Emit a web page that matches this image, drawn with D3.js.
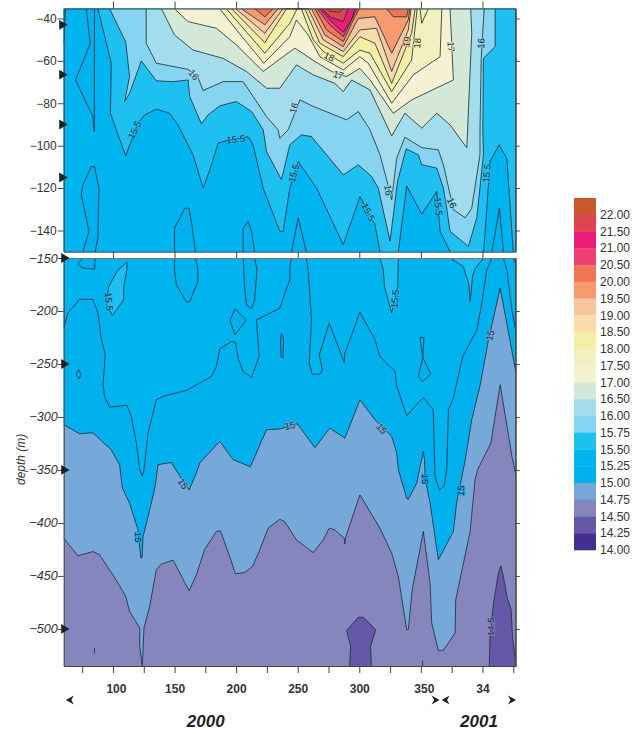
<!DOCTYPE html>
<html>
<head>
<meta charset="utf-8">
<script src="https://cdn.jsdelivr.net/npm/d3@7"></script>
<style>
    html, body { margin: 0; padding: 0; background: #fff; }
    text { font-family: "Liberation Sans", Arial, sans-serif; }
</style>
</head>
<body>
<div id="viz"></div>
<script>
const legendLevels = [22, 21.5, 21, 20.5, 20, 19.5, 19, 18.5, 18, 17.5, 17, 16.5, 16, 15.75, 15.5, 15.25, 15, 14.75, 14.5, 14.25, 14];
const legendColors = ['#c8592f', '#dc4450', '#ed1c79', '#ee3f72', '#f07458', '#f79b6e', '#f8c6a0', '#fbdcab', '#f3efa5', '#f2f0c0', '#f5f2d3', '#d3e8d6', '#a3dcec', '#87d4f2', '#1ec0f2', '#00b4f0', '#00b1ee', '#76a8da', '#8686bf', '#6658a8', '#432e92'];

const upperDepthTicks = [-40, -60, -80, -100, -120, -140];
const lowerDepthTicks = [-150, -200, -250, -300, -350, -400, -450, -500];
const majorDays = [100, 150, 200, 250, 300, 350, 400];
const minorDays = [75, 100, 125, 150, 175, 200, 225, 250, 275, 300, 325, 350, 375, 400, 425];
const sampleDepths = [-43, -66.5, -90, -115, -150, -250, -350, -500];

// contour outlines as [day, depth], warm side is filled
const iso14_75 = [[55, -414], [60, -414.4], [71.5, -431], [83.7, -427], [89, -430], [100, -449], [110.3, -469], [113.5, -483.5], [121.7, -499], [121.7, -516], [123.8, -536], [125.2, -499], [129.8, -479], [135.2, -444], [139.3, -439], [148.8, -435], [161.8, -464], [167.7, -449], [174.5, -425], [184, -408], [187.3, -407.5], [194.8, -431.7], [199.4, -448], [207, -446.7], [213.3, -441], [219.2, -425.4], [226, -405], [235.5, -396.5], [239.6, -399], [249, -416], [262.6, -428], [270.7, -416], [275.6, -405], [280, -406.5], [287.8, -414.4], [288.2, -420], [288.8, -414], [300.5, -373.6], [316.8, -405], [326.3, -428.5], [331.7, -450.5], [338.5, -500.7], [339.8, -500.7], [343, -463], [352, -408], [357.5, -457], [358.8, -494.5], [364.2, -520.5], [368.3, -520], [377.8, -504], [378.3, -472.5], [390, -408], [394, -359.4], [396, -350], [406.8, -324.6], [414.4, -269.6], [423.9, -337], [428, -359.4], [432, -360], [432, -30], [55, -30]];
const iso15 = [[55, -307], [60, -307.3], [72.9, -315.8], [83.7, -315], [98.6, -331], [105.4, -345], [107.6, -367], [113.5, -381.4], [120.3, -406.5], [122.6, -433], [123.6, -433], [124.4, -413], [128.5, -394], [134, -367], [136.6, -345], [147.4, -343], [155.5, -358], [161.8, -369], [167.7, -353], [170.5, -343.4], [186.7, -323], [197.6, -340.3], [211.6, -347], [224.7, -312], [235.5, -311.4], [249.6, -306.4], [264, -329], [276, -310.5], [288.3, -320], [300.5, -283.8], [312.7, -302.6], [326.3, -318.3], [330.4, -334], [331.7, -349.7], [338.5, -376.7], [339.8, -377.6], [346.6, -362.6], [349.3, -347], [350.7, -340.6], [352, -332.4], [353, -341], [353.5, -358], [357.5, -381.4], [359.5, -397], [364.2, -434.8], [376.4, -408], [379, -381.4], [386, -340.6], [391.3, -302.6], [398, -271], [404.9, -227.2], [414.4, -178.6], [422.5, -228.8], [428, -263.4], [432, -264], [432, -30], [55, -30]];
const iso15_25 = [[55, -216], [60, -216], [63.4, -202], [72.9, -189], [83.7, -189], [87.8, -202], [90.5, -225.7], [93.8, -241.4], [91.9, -269.6], [93.2, -280.6], [97.3, -290.7], [111.4, -289], [114.9, -299.5], [119, -324.6], [121.7, -349.7], [123.8, -355.7], [125.2, -349.7], [128.5, -315], [135.2, -283.8], [142, -280], [159.6, -275], [180, -261.8], [184, -252.4], [186.7, -235.7], [196.2, -228.8], [199.4, -229.4], [201.6, -244.5], [205.7, -257], [212.5, -262.7], [218.7, -243], [216.5, -208.4], [235.5, -197.4], [239.6, -183], [243.6, -170.7], [243.6, -158], [245, -150], [250.4, -134], [257, -150], [258.5, -161.3], [261.2, -208.4], [259.3, -249.2], [261.8, -259.6], [268, -259.6], [270, -255.5], [267.5, -241.4], [275.6, -211.5], [287.8, -248.6], [288.3, -239.8], [300.5, -201], [312.7, -227], [316.8, -243], [329, -257], [330.4, -271], [338.5, -298.8], [352, -281.6], [360, -293], [361.5, -356.3], [365, -368.9], [368.8, -365], [371, -349.7], [372.4, -293], [376.4, -282], [384, -243], [395.4, -218], [399.5, -192.7], [403.5, -161.3], [407.6, -150], [413.8, -129.5], [417, -150], [419.8, -161.3], [423.9, -199], [428, -224], [432, -224], [432, -30], [55, -30]];
const iso15_5 = [[87.8, -35.4], [98.6, -61], [98, -84.7], [102.7, -92.5], [110.3, -104.8], [115.7, -96.5], [120.3, -89.4], [125.7, -85.5], [135.2, -82.8], [146, -84.7], [152.8, -90.2], [165, -104.3], [173.2, -120], [178.6, -111.4], [185.4, -98.8], [192, -97.7], [209.7, -95.7], [213.8, -99.6], [221.9, -120], [235.5, -140.4], [238.2, -140.4], [243.6, -120], [250.4, -107.5], [265.3, -120], [287, -146.7], [300.5, -124], [312.7, -137.3], [316.8, -150], [319.5, -161], [320.5, -177], [326.3, -202], [331.2, -177], [331.7, -150], [338.5, -119], [350.7, -132.3], [362.9, -121.6], [365.6, -140.4], [373.7, -150], [384.5, -158], [389, -175], [390, -191], [392, -167], [394, -160], [401, -150], [406.2, -107.5], [413.5, -99.6], [419.8, -106], [425, -150], [428, -158], [432, -158], [432, -30], [87.8, -30]];
const iso15_75 = [[97.3, -35.4], [110.3, -51], [113.5, -67.4], [109.5, -79.2], [113.5, -75.3], [123, -60], [135.2, -69.4], [148.8, -69.8], [161, -69], [162.3, -76.8], [171.8, -89.7], [177.2, -85.5], [186.7, -81.2], [200.3, -79.2], [212.5, -83.9], [222, -92.5], [224.7, -102.8], [236.8, -116], [243.6, -99.6], [253, -94.9], [261.2, -95.7], [287, -113.8], [299.2, -109], [310, -114.5], [315.4, -120], [325, -145], [331, -117], [338, -101.5], [348, -104.3], [350.7, -109], [362.9, -110.6], [368.3, -120], [371, -129.5], [373.7, -140.4], [388.6, -147.5], [395.4, -134], [400.8, -104.3], [400.3, -92.5], [400.8, -58.8], [410.3, -53.3], [410.3, -35.4]];
const iso16 = [[127, -35.4], [127, -51.7], [135.2, -61.1], [161, -64], [169, -67.7], [173.2, -74], [189.4, -69.8], [205.7, -69.8], [213.8, -76.8], [224.7, -86.3], [234, -92.5], [235.5, -96.5], [242.3, -92.5], [251.8, -78.4], [262.6, -81.5], [289.7, -87.8], [299.2, -83.9], [308.7, -92.5], [316.8, -104.3], [322.2, -116], [326.3, -125.5], [330.4, -105.9], [337, -96], [350.7, -100.9], [364.2, -102], [368.3, -109], [373.7, -123], [376.4, -130.2], [386, -134], [391.3, -129.5], [398, -104.3], [398, -92.5], [399, -58.8], [401.4, -35.4]];
const iso16_5 = [[139.3, -35.4], [150, -47.8], [165, -54.9], [189.4, -58.8], [208.4, -65], [224.7, -72.9], [235.5, -72.9], [249, -61.9], [262.6, -66.6], [280.2, -70.6], [287, -74.5], [293.8, -69], [308.7, -73.7], [326.3, -95.4], [337, -84.7], [350.7, -91.7], [362.9, -84.7], [373.7, -90.2], [387.3, -101], [391.3, -47], [390.5, -35.4]];
const iso17 = [[150, -35.4], [161, -41.5], [184, -44.6], [200.3, -52.5], [221.9, -65], [232.8, -60.3], [247.7, -54], [264, -60.3], [277.5, -65], [289.7, -67.4], [300.5, -63.5], [308.7, -69], [327.6, -84.7], [342.5, -78.4], [376.4, -69], [373.7, -35.4]];
const iso17_5 = [[186.7, -35.4], [200.3, -45.4], [222.5, -61.1], [243.6, -48.6], [249, -40.7], [258.5, -47.8], [268, -58], [287, -64.3], [300.5, -58], [307.3, -61.1], [326.3, -80], [343.9, -66.6], [365.6, -58], [367, -35.4]];
const iso18 = [[192, -35.4], [223.3, -56.4], [243.6, -42.3], [249.6, -35.4], [253, -35.4], [262.6, -50.1], [270.7, -55.6], [287, -61.1], [300.5, -54.9], [308.7, -56.4], [326.3, -74.5], [342.5, -59.6], [347, -35.4]];
const iso18b = [[349.3, -35.4], [350.7, -42.3], [356, -35.4]];
const iso18_5 = [[196.2, -35.4], [223.3, -51.4], [241, -35.4], [255.8, -35.4], [268, -51.7], [287, -58], [300.5, -48.6], [312.7, -51.7], [326.3, -70.6], [342.5, -47], [345.3, -35.4]];
const iso19 = [[199.7, -35.4], [223.3, -47], [238, -35.4], [258.5, -35.4], [270.7, -50.1], [287, -55.6], [300.5, -45.4], [314, -44.6], [326.3, -65], [339.8, -45.4], [342, -35.4]];
const iso19_5 = [[204.3, -35.4], [223.3, -43], [234, -35.4], [261.2, -35.4], [272, -47.8], [287, -53.3], [299.2, -40], [312.7, -39.2], [326.3, -56.4], [339.8, -40.7], [341, -35.4]];
const iso20a = [[215.2, -35.4], [223.3, -39.2], [230, -35.4]];
const iso20b = [[264, -35.4], [273.4, -45.4], [287, -50.9], [293.8, -42.3], [300, -35.4]];
const iso20c = [[322.2, -35.4], [327.6, -39.2], [338.5, -39.2], [339.8, -35.4]];
const iso20_5 = [[265.9, -35.4], [276, -43], [287, -48.6], [296, -38], [298.4, -35.4]];
const iso21 = [[268, -35.4], [277.5, -41.5], [287, -46.5], [293.8, -40.7], [296.5, -35.4]];
const iso21_5 = [[270.2, -35.4], [276, -39.2], [287, -41.5], [291, -35.4]];
const iso22 = [[273.4, -35.4], [276, -36.5], [283, -37], [287.5, -35.4]];

// closed pockets inside the larger bands
const warmPocket15_5 = [[111.4, -154], [111.4, -161], [108.7, -177], [108.7, -189.6], [99.5, -204.3], [94.6, -192.7], [96.5, -177], [104, -161.3], [111.4, -154]];
const coldWedge = [[78.3, -35.4], [81.6, -51.7], [69.6, -69], [83.7, -86.3], [84.8, -93.3], [85, -35.4]];
const coldEdge = [[61.5, -35.4], [60, -52], [55, -52], [55, -35.4]];
const coldBlobA = [[82.4, -109.8], [85, -109.8], [88.6, -120], [87.8, -143.6], [85.6, -150], [85, -160.5], [75.6, -159.5], [71.5, -155.7], [75.6, -150], [80.5, -140.4], [74.2, -123], [75.6, -118.5], [82.4, -109.8]];
const coldBlobB = [[150, -161.3], [150, -138.9], [158.3, -129.5], [161.8, -129.5], [164.5, -139], [167, -150], [169, -161.3], [169, -172.3], [162.3, -191], [159.6, -191.8], [151.5, -175.4], [150, -161.3]];
const coldBlobC = [[205.7, -150], [205.7, -138.9], [209.7, -135.7], [212.5, -140.4], [215, -150], [217, -161.3], [215, -189.6], [212.5, -198], [208.4, -194.3], [207, -180], [205.7, -150]];
const coldDiamondA = [[199, -198], [208.4, -208.4], [199, -222.5], [195, -209], [199, -198]];
const coldSliverA = [[236.8, -221], [238.2, -224], [238.2, -244.5], [236.5, -243], [236, -228], [236.8, -221]];
const coldDiamondB = [[70, -259.6], [72.3, -255.5], [74.2, -260.2], [72.3, -264], [70, -259.6]];
const coldDiamondC = [[349.3, -225], [352.5, -225], [351.5, -243.6], [358, -259.6], [351.5, -266.5], [348, -261.8], [351.5, -243.6], [349.3, -225]];
const cold14_5a = [[289.7, -501.7], [299.2, -489], [303.3, -489], [313.3, -500.7], [309.2, -516.4], [310, -540], [291.9, -540], [293, -516.4], [289.7, -501.7]];
const cold14_5b = [[405.4, -540], [406.2, -507], [409, -475.6], [413, -447.4], [415, -440.5], [417, -450.5], [419.8, -469.3], [423.3, -482], [424.4, -507], [427.4, -535], [427.4, -540]];
const strayA = [[85, -518], [85, -523]];
const strayB = [[351.5, -530], [351.5, -536]];

const labelTexts = ['16', '18', '17', '16', '19', '18', '17', '16', '15.5', '15.5', '15.5', '15.5', '16', '16', '15.5', '15.5', '15.5', '15.5', '15', '15', '15', '15', '15', '15', '15', '14.5'];
const labelDays = [165.6, 275.6, 283, 247, 338.5, 347, 374.5, 399, 117.6, 199.7, 246.9, 307.3, 323.6, 375, 364.2, 403.5, 96.7, 329, 243.6, 318.2, 406.2, 156.9, 120.3, 353.4, 382.4, 407];
const labelDepths = [-66.6, -58, -66.6, -82.3, -51, -51.7, -53.3, -51.7, -92.6, -97, -113, -131.3, -121, -127, -128.7, -113, -191, -188.6, -308, -311, -223, -363, -413.4, -358.5, -369.5, -498];

const width = 644;
const height = 734;
const labelAngles = [50, 25, 15, -75, -80, -85, 88, -88, -65, -5, -75, 65, 80, 65, 85, -85, 85, -85, -10, 50, -75, 55, 90, 90, -85, -90];
const labelHalos = ['#a3dcec', '#f3efa5', '#d3e8d6', '#a3dcec', '#f8c6a0', '#f3efa5', '#f5f2d3', '#87d4f2', '#1ec0f2', '#1ec0f2', '#1ec0f2', '#1ec0f2', '#87d4f2', '#87d4f2', '#1ec0f2', '#1ec0f2', '#1ec0f2', '#1ec0f2', '#76a8da', '#76a8da', '#76a8da', '#76a8da', '#00b1ee', '#00b1ee', '#00b1ee', '#8686bf'];

const colorOf = d3.scaleOrdinal().domain(legendLevels).range(legendColors);

const x = d3.scaleLinear().domain([60, 427]).range([63.7, 515.7]);
const yUpper = d3.scaleLinear().domain([-35.3, -150]).range([8.5, 251.7]);
const yLower = d3.scaleLinear().domain([-150, -535]).range([258, 666]);

const layers = [
    [iso14_75, 14.75], [iso15, 15], [iso15_25, 15.25],
    [coldWedge, 15], [coldEdge, 15], [coldBlobA, 15], [coldBlobB, 15], [coldBlobC, 15],
    [coldDiamondA, 15], [coldSliverA, 15], [coldDiamondB, 15], [coldDiamondC, 15],
    [iso15_5, 15.5], [warmPocket15_5, 15.5], [iso15_75, 15.75], [iso16, 16], [iso16_5, 16.5],
    [iso17, 17], [iso17_5, 17.5], [iso18, 18], [iso18b, 18], [iso18_5, 18.5], [iso19, 19], [iso19_5, 19.5],
    [iso20a, 20], [iso20b, 20], [iso20c, 20], [iso20_5, 20.5], [iso21, 21], [iso21_5, 21.5], [iso22, 22],
    [cold14_5a, 14.25], [cold14_5b, 14.25], [strayA, 14.5], [strayB, 14.5]
];

const svg = d3.select('#viz')
    .append('svg')
    .attr('width', width)
    .attr('height', height)
    .style('display', 'block');

function drawPanel(name, y) {
    const [y0, y1] = y.range();
    const [top, bottom] = y.domain();

    svg.append('clipPath')
        .attr('id', `clip-${name}`)
        .append('rect')
        .attr('x', x.range()[0])
        .attr('y', y0)
        .attr('width', x.range()[1] - x.range()[0])
        .attr('height', y1 - y0);

    const panel = svg.append('g').attr('clip-path', `url(#clip-${name})`);

    panel.append('rect')
        .attr('x', x.range()[0])
        .attr('y', y0)
        .attr('width', x.range()[1] - x.range()[0])
        .attr('height', y1 - y0)
        .attr('fill', colorOf(14.5));

    const line = d3.line().x((d) => x(d[0])).y((d) => y(d[1]));

    panel.selectAll('.band')
        .data(layers)
        .enter()
        .append('path')
            .attr('d', (d) => line(d[0]) + 'Z')
            .attr('fill', (d) => colorOf(d[1]));

    panel.selectAll('.contour')
        .data(layers)
        .enter()
        .append('path')
            .attr('d', (d) => line(d[0]))
            .attr('fill', 'none')
            .attr('stroke', '#1c2a33')
            .attr('stroke-width', 0.8);

    // only the labels whose depth falls in this panel
    const panelLabels = d3.range(labelTexts.length)
        .filter((i) => labelDepths[i] <= top && labelDepths[i] >= bottom);

    panel.selectAll('.contour-label')
        .data(panelLabels)
        .enter()
        .append('text')
            .attr('transform', (i) => `translate(${x(labelDays[i])}, ${y(labelDepths[i])})rotate(${labelAngles[i]})`)
            .attr('text-anchor', 'middle')
            .attr('dy', '0.35em')
            .attr('font-size', 9.5)
            .attr('fill', '#1c2a33')
            .attr('stroke', (i) => labelHalos[i])
            .attr('stroke-width', 1.5)
            .style('paint-order', 'stroke')
            .text((i) => labelTexts[i]);
}

drawPanel('upper', yUpper);
drawPanel('lower', yLower);

function styleAxis(g, fontSize) {
    g.select('.domain').attr('stroke', '#444');
    g.selectAll('.tick line').attr('stroke', '#444');
    g.selectAll('.tick text')
        .attr('fill', '#333')
        .attr('font-family', '"Liberation Sans", Arial, sans-serif')
        .attr('font-size', fontSize);
}

// left depth axes
svg.append('g')
    .attr('transform', `translate(${x.range()[0]}, 0)`)
    .call(d3.axisLeft(yUpper).tickValues(upperDepthTicks).tickSize(6).tickSizeOuter(0).tickPadding(1))
    .call(styleAxis, 12);

svg.append('g')
    .attr('transform', `translate(${x.range()[0]}, 0)`)
    .call(d3.axisLeft(yLower).tickValues(lowerDepthTicks).tickSize(6).tickSizeOuter(0).tickPadding(0))
    .call(styleAxis, 12.5)
    .selectAll('.tick text')
        .attr('font-style', 'italic');

// right side ticks
[[yUpper, upperDepthTicks], [yLower, lowerDepthTicks.slice(1)]].forEach(([y, ticks]) => {
    svg.append('g')
        .attr('transform', `translate(${x.range()[1]}, 0)`)
        .call(d3.axisRight(y).tickValues(ticks).tickSize(4).tickSizeOuter(0).tickFormat(''))
        .call(styleAxis, 10);
});

// top of the upper panel and the white strip between the panels
svg.append('g')
    .attr('transform', `translate(0, ${yUpper.range()[0]})`)
    .call(d3.axisTop(x).tickValues(majorDays).tickSize(7).tickSizeOuter(0).tickFormat(''))
    .call(styleAxis, 10);

svg.append('g')
    .attr('transform', `translate(0, ${yUpper.range()[1]})`)
    .call(d3.axisBottom(x).tickValues(majorDays).tickSize(6.3).tickSizeOuter(0).tickFormat(''))
    .call(styleAxis, 10);

svg.append('g')
    .attr('transform', `translate(0, ${yLower.range()[0]})`)
    .call(d3.axisTop(x).tickValues([]).tickSizeOuter(0))
    .call(styleAxis, 10)
    .select('.domain').attr('stroke', '#777');

// bottom axis
svg.append('g')
    .attr('transform', `translate(0, ${yLower.range()[1]})`)
    .call(d3.axisBottom(x).tickValues(minorDays).tickSize(7).tickSizeOuter(0).tickFormat(''))
    .call(styleAxis, 10);

svg.append('g')
    .attr('transform', `translate(0, ${yLower.range()[1]})`)
    .call(d3.axisBottom(x).tickValues(majorDays).tickSize(0).tickSizeOuter(0).tickPadding(18).tickFormat((d) => d === 400 ? '34' : d))
    .call(styleAxis, 12)
    .call((g) => g.select('.domain').remove())
    .selectAll('.tick text')
        .attr('font-weight', 'bold')
        .attr('dx', (d) => (d === 100 || d === 350) ? 3 : 0);

// right edge of both panels
[yUpper, yLower].forEach((y) => {
    svg.append('line')
        .attr('x1', x.range()[1])
        .attr('x2', x.range()[1])
        .attr('y1', y.range()[0])
        .attr('y2', y.range()[1])
        .attr('stroke', '#444');
});

// sampling depth markers
const markerShape = d3.symbol().type(d3.symbolTriangle).size(42);
svg.selectAll('.marker')
    .data(sampleDepths)
    .enter()
    .append('path')
        .attr('d', markerShape)
        .attr('fill', '#231f20')
        .attr('transform', (d) => {
            const py = d > -150 ? yUpper(d) : yLower(d);
            const px = d > -150 ? 62 : 64;
            return `translate(${px}, ${py})rotate(90)`;
        });

svg.append('text')
    .attr('transform', `translate(25, ${yLower(-340)})rotate(-90)`)
    .attr('text-anchor', 'middle')
    .attr('font-size', 12)
    .attr('font-style', 'italic')
    .attr('fill', '#333')
    .text('depth (m)');

// year brackets
const arrowY = 700;
const rightArrow = 'M-4,-4.5L4,0L-4,4.5L-1.5,0Z';
const leftArrow = 'M4,-4.5L-4,0L4,4.5L1.5,0Z';
[[x(65), leftArrow], [x(366) - 5, rightArrow], [x(366) + 5, leftArrow], [x(424), rightArrow]].forEach(([px, shape]) => {
    svg.append('path')
        .attr('d', shape)
        .attr('transform', `translate(${px}, ${arrowY})`)
        .attr('fill', '#231f20');
});

[['2000', 205.7], ['2001', 479]].forEach(([year, px]) => {
    svg.append('text')
        .attr('x', px)
        .attr('y', 727)
        .attr('text-anchor', 'middle')
        .attr('font-size', 17)
        .attr('font-weight', 'bold')
        .attr('font-style', 'italic')
        .attr('fill', '#231f20')
        .text(year);
});

// colour legend
const legendY = d3.scaleBand().domain(legendLevels).range([198, 550]);

svg.selectAll('.swatch')
    .data(legendLevels)
    .enter()
    .append('rect')
        .attr('x', 574)
        .attr('y', (d) => legendY(d))
        .attr('width', 22)
        .attr('height', legendY.bandwidth() + 0.3)
        .attr('fill', (d) => colorOf(d));

svg.selectAll('.swatch-label')
    .data(legendLevels)
    .enter()
    .append('text')
        .attr('x', 600)
        .attr('y', (d) => legendY(d) + legendY.bandwidth())
        .attr('dy', '0.35em')
        .attr('font-size', 12)
        .attr('fill', '#333')
        .text((d) => d.toFixed(2));
</script>
</body>
</html>
